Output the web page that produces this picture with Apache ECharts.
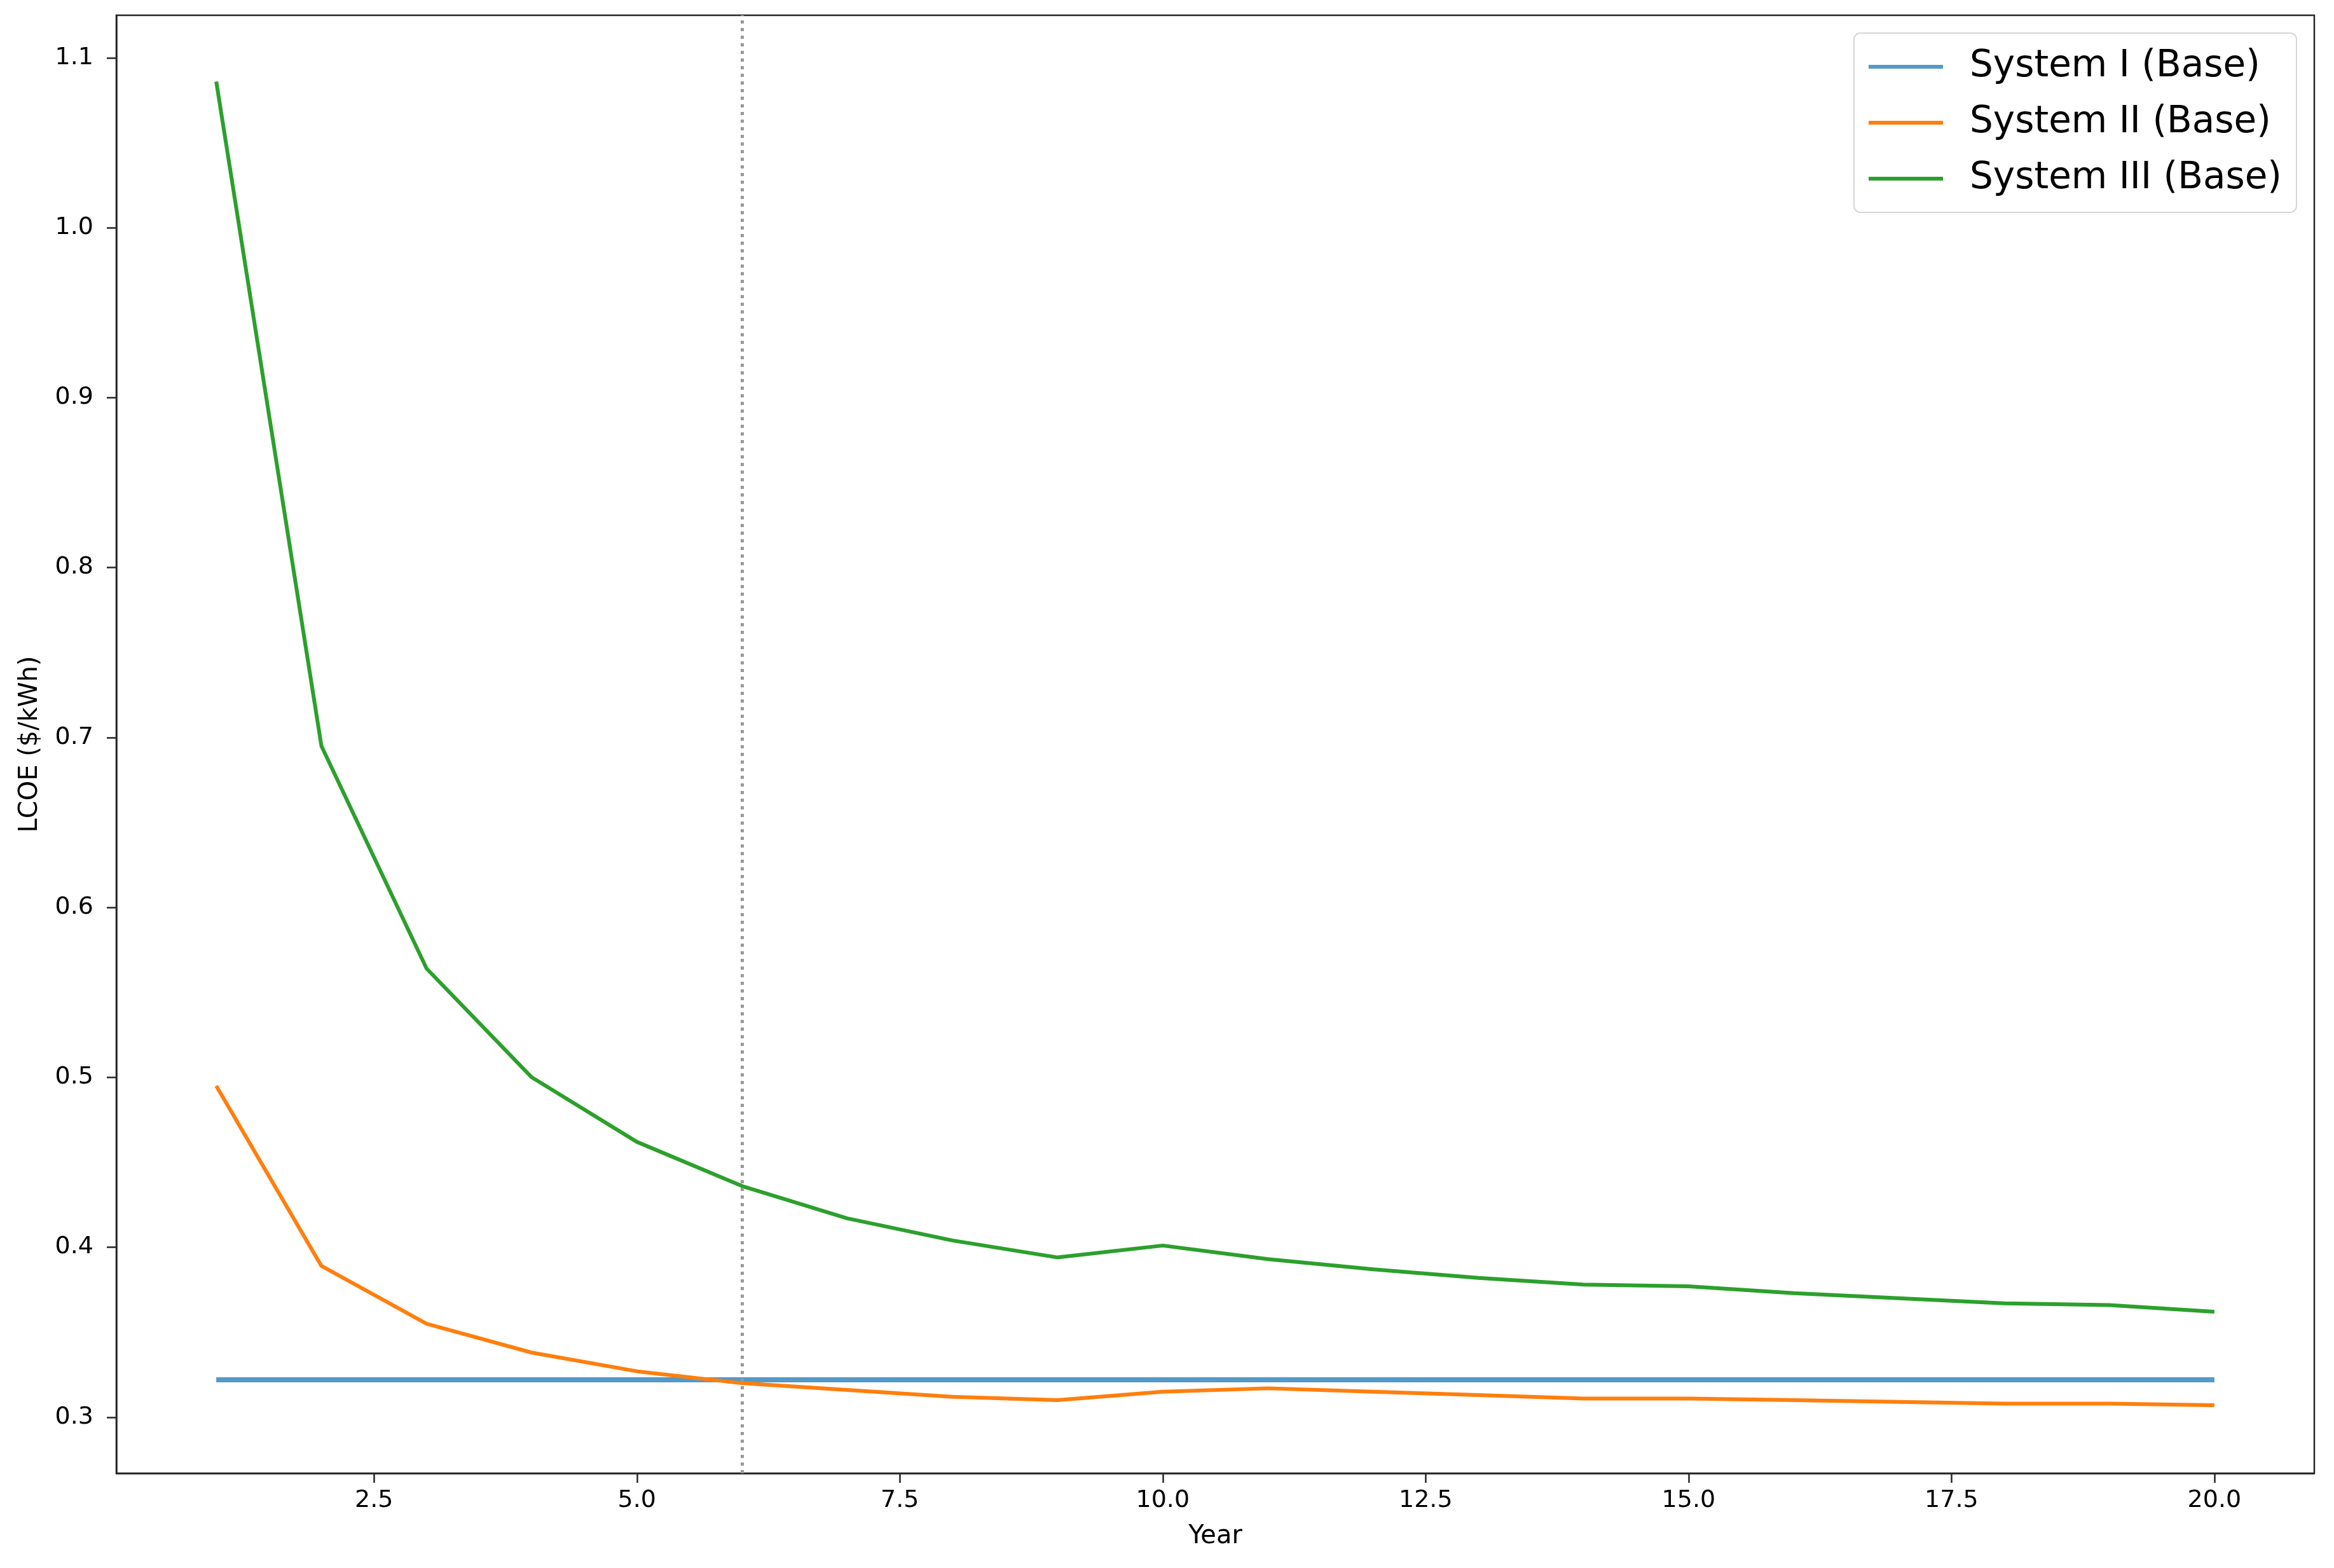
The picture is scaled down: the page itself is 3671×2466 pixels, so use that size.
<!DOCTYPE html>
<html>
<head>
<meta charset="utf-8">
<title>LCOE by year</title>
<script src="https://cdn.jsdelivr.net/npm/echarts@6/dist/echarts.min.js"></script>
<style>
  html, body { margin: 0; padding: 0; background: #fff; }
  #chart { width: 3671px; height: 2466px; }
</style>
</head>
<body>
<div id="chart"></div>
<script>
// data
var years = [1, 2, 3, 4, 5, 6, 7, 8, 9, 10, 11, 12, 13, 14, 15, 16, 17, 18, 19, 20];
var seriesNames = ['System I (Base)', 'System II (Base)', 'System III (Base)'];
var system1 = [0.322, 0.322, 0.322, 0.322, 0.322, 0.322, 0.322, 0.322, 0.322, 0.322,
               0.322, 0.322, 0.322, 0.322, 0.322, 0.322, 0.322, 0.322, 0.322, 0.322];
var system2 = [0.495, 0.389, 0.355, 0.338, 0.327, 0.320, 0.316, 0.312, 0.310, 0.315,
               0.317, 0.315, 0.313, 0.311, 0.311, 0.310, 0.309, 0.308, 0.308, 0.307];
var system3 = [1.086, 0.695, 0.564, 0.500, 0.462, 0.436, 0.417, 0.404, 0.394, 0.401,
               0.393, 0.387, 0.382, 0.378, 0.377, 0.373, 0.370, 0.367, 0.366, 0.362];
var xTicks = [2.5, 5.0, 7.5, 10.0, 12.5, 15.0, 17.5, 20.0];
var yTicks = [0.3, 0.4, 0.5, 0.6, 0.7, 0.8, 0.9, 1.0, 1.1];
var markerYear = 6;

var font = 'DejaVu Sans';
var axisColor = '#262626';

function pairs(vals) {
  return years.map(function (y, i) { return [y, vals[i]]; });
}

var chart = echarts.init(document.getElementById('chart'));

var option = {
  animation: false,
  backgroundColor: '#fff',
  grid: {
    left: 183, right: 31, top: 24, bottom: 149,
    show: true, borderColor: axisColor, borderWidth: 2.5
  },
  legend: {
    data: seriesNames,
    orient: 'vertical',
    right: 59,
    top: 52,
    icon: 'rect',
    itemWidth: 117,
    itemHeight: 6,
    itemGap: 30,
    padding: [24, 23, 24, 23],
    backgroundColor: 'rgba(255,255,255,0.8)',
    borderColor: '#d6d6d6',
    borderWidth: 2,
    borderRadius: 10,
    textStyle: {
      fontFamily: font, fontSize: 58, color: '#000',
      lineHeight: 58, padding: [0, 0, 0, 37]
    }
  },
  xAxis: {
    type: 'value',
    min: 0.05,
    max: 20.95,
    name: 'Year',
    nameLocation: 'middle',
    nameGap: 80,
    nameTextStyle: { fontFamily: font, fontSize: 40, color: '#000' },
    axisLine: { show: true, lineStyle: { color: axisColor, width: 2.5 } },
    axisTick: { show: true, length: 15, lineStyle: { color: axisColor, width: 2.5 }, customValues: xTicks },
    axisLabel: {
      fontFamily: font, fontSize: 38, color: '#000', margin: 24,
      customValues: xTicks,
      formatter: function (v) { return v.toFixed(1); }
    },
    splitLine: { show: false }
  },
  yAxis: {
    type: 'value',
    min: 0.267,
    max: 1.125,
    name: 'LCOE ($/kWh)',
    nameLocation: 'middle',
    nameGap: 115,
    nameTextStyle: { fontFamily: font, fontSize: 40, color: '#000' },
    axisLine: { show: true, lineStyle: { color: axisColor, width: 2.5 } },
    axisTick: { show: true, length: 15, lineStyle: { color: axisColor, width: 2.5 }, customValues: yTicks },
    axisLabel: {
      fontFamily: font, fontSize: 38, color: '#000', margin: 36,
      customValues: yTicks,
      formatter: function (v) { return v.toFixed(1); }
    },
    splitLine: { show: false }
  },
  series: [
    {
      name: seriesNames[0],
      type: 'line',
      data: pairs(system1),
      showSymbol: false,
      color: '#5499c7',
      lineStyle: { width: 8 },
      markLine: {
        silent: true,
        symbol: 'none',
        label: { show: false },
        lineStyle: { color: '#999999', width: 5, type: [5, 7] },
        data: [{ xAxis: markerYear }]
      }
    },
    {
      name: seriesNames[1],
      type: 'line',
      data: pairs(system2),
      showSymbol: false,
      color: '#ff7f0e',
      lineStyle: { width: 6 }
    },
    {
      name: seriesNames[2],
      type: 'line',
      data: pairs(system3),
      showSymbol: false,
      color: '#2ca02c',
      lineStyle: { width: 6 }
    }
  ]
};

chart.setOption(option);
</script>
</body>
</html>
